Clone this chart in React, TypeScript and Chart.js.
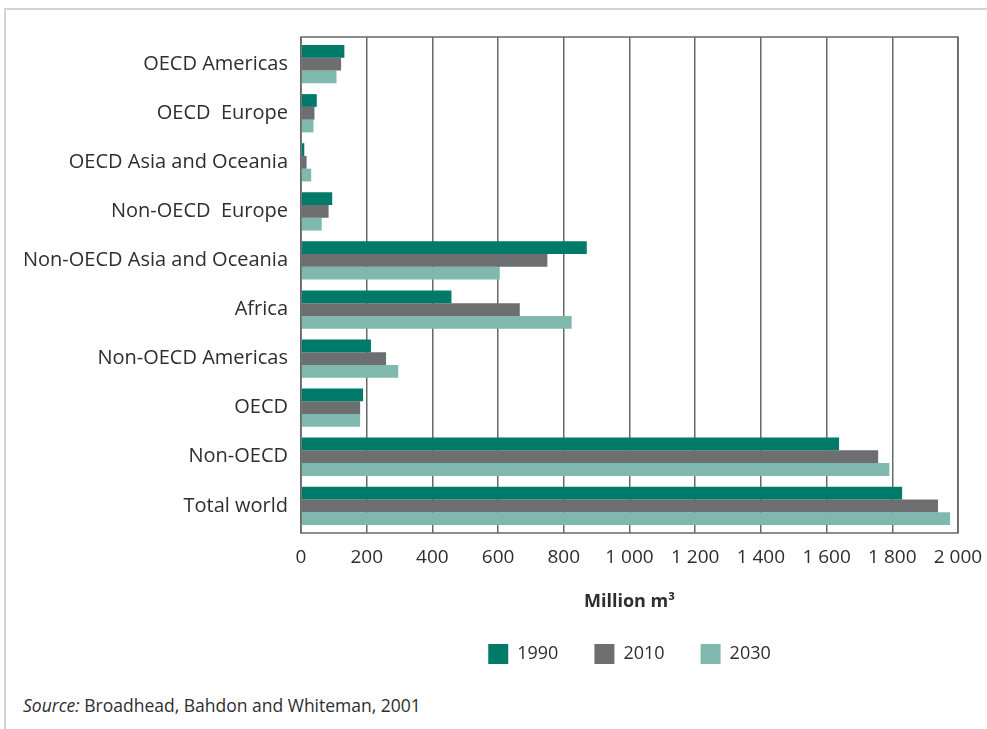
import { useEffect, useRef } from 'react';
import { Chart, registerables } from 'chart.js';

Chart.register(...registerables);

const categories = [
  'OECD Americas',
  'OECD  Europe',
  'OECD Asia and Oceania',
  'Non-OECD  Europe',
  'Non-OECD Asia and Oceania',
  'Africa',
  'Non-OECD Americas',
  'OECD',
  'Non-OECD',
  'Total world',
];
const seriesLabels = ['1990', '2010', '2030'];
const values1990 = [132, 48, 10, 95, 870, 458, 213, 189, 1638, 1830];
const values2010 = [122, 41, 17, 84, 750, 666, 259, 180, 1757, 1939];
const values2030 = [108, 38, 31, 63, 605, 824, 296, 180, 1791, 1976];
const seriesColors = ['#007a69', '#6d6e70', '#7fb8ad'];
const xMin = 0;
const xMax = 2000;
const xStep = 200;
const axisTitle = 'Million m³';
const sourceLabel = 'Source:';
const sourceText = ' Broadhead, Bahdon and Whiteman, 2001';

const FONT = "'Open Sans', 'DejaVu Sans', sans-serif";
const TEXT = '#2e2e2e';
const GRID = '#686868';
const CATEGORY_EDGE = 0.054;

const formatThousands = (v: number) =>
  String(v).replace(/\B(?=(\d{3})+(?!\d))/g, ' ');

const plotFrame = {
  id: 'plotFrame',
  afterDatasetsDraw(chart: any) {
    const { ctx, chartArea } = chart;
    const { left, top, right, bottom } = chartArea;
    ctx.save();
    ctx.strokeStyle = GRID;
    ctx.lineWidth = 1.5;
    ctx.strokeRect(left, top, right - left, bottom - top);
    ctx.restore();
  },
};

export default function App() {
  const canvasRef = useRef<HTMLCanvasElement | null>(null);

  useEffect(() => {
    if (!canvasRef.current) return;
    const data = [values1990, values2010, values2030];
    const chart = new Chart(canvasRef.current, {
      type: 'bar',
      data: {
        labels: categories,
        datasets: seriesLabels.map((label, i) => ({
          label,
          data: data[i],
          backgroundColor: seriesColors[i],
          borderWidth: 0,
          barPercentage: 1,
          categoryPercentage: 0.78,
        })),
      },
      options: {
        indexAxis: 'y',
        responsive: false,
        animation: false,
        devicePixelRatio: 1,
        layout: { padding: { top: 37, right: 29, bottom: 0, left: 0 } },
        plugins: {
          tooltip: { enabled: false },
          legend: {
            position: 'bottom',
            fullSize: false,
            labels: {
              boxWidth: 20,
              boxHeight: 20,
              padding: 36,
              color: TEXT,
              font: { family: FONT, size: 18 },
            },
          },
        },
        scales: {
          x: {
            type: 'linear',
            min: xMin,
            max: xMax,
            afterFit: (scale: any) => {
              scale.height = 75;
              scale.paddingLeft = 0;
              scale.paddingRight = 0;
            },
            afterBuildTicks: (scale: any) => {
              const t = [];
              for (let v = xMin; v <= xMax; v += xStep) t.push({ value: v });
              scale.ticks = t;
            },
            ticks: {
              stepSize: xStep,
              autoSkip: false,
              maxRotation: 0,
              padding: 13,
              color: TEXT,
              font: { family: FONT, size: 19 },
              callback: (v: any) => formatThousands(Number(v)),
            },
            grid: { color: GRID, lineWidth: 1.5, drawTicks: false },
            border: { display: false },
            title: {
              display: true,
              text: axisTitle,
              color: TEXT,
              font: { family: FONT, size: 18, weight: 'bold' },
              padding: { top: 0, bottom: -5 },
            },
          },
          y: {
            afterBuildTicks: (scale: any) => {
              scale._startValue = -0.5 - CATEGORY_EDGE;
              scale._valueRange = categories.length + 2 * CATEGORY_EDGE;
            },
            afterFit: (scale: any) => {
              scale.width = 301;
            },
            ticks: {
              padding: 13,
              color: TEXT,
              font: { family: FONT, size: 20 },
            },
            grid: { display: false, drawTicks: false },
            border: { display: false },
          },
        },
      },
      plugins: [plotFrame],
    } as any);
    return () => chart.destroy();
  }, []);

  return (
    <div
      style={{
        position: 'absolute',
        left: 0,
        top: 0,
        width: 987,
        height: 729,
        background: '#ffffff',
        overflow: 'hidden',
      }}
    >
      <div
        style={{
          position: 'absolute',
          left: 4,
          top: 8,
          width: 1000,
          height: 800,
          borderTop: '2px solid #d4d4d4',
          borderLeft: '2px solid #d4d4d4',
        }}
      />
      <canvas
        ref={canvasRef}
        width={987}
        height={674}
        style={{ position: 'absolute', left: 0, top: 0, width: 987, height: 674 }}
      />
      <div
        style={{
          position: 'absolute',
          left: 23,
          top: 695,
          fontFamily: FONT,
          fontSize: 17.5,
          lineHeight: '20px',
          color: TEXT,
          whiteSpace: 'pre',
        }}
      >
        <span style={{ fontStyle: 'italic' }}>{sourceLabel}</span>
        {sourceText}
      </div>
    </div>
  );
}
